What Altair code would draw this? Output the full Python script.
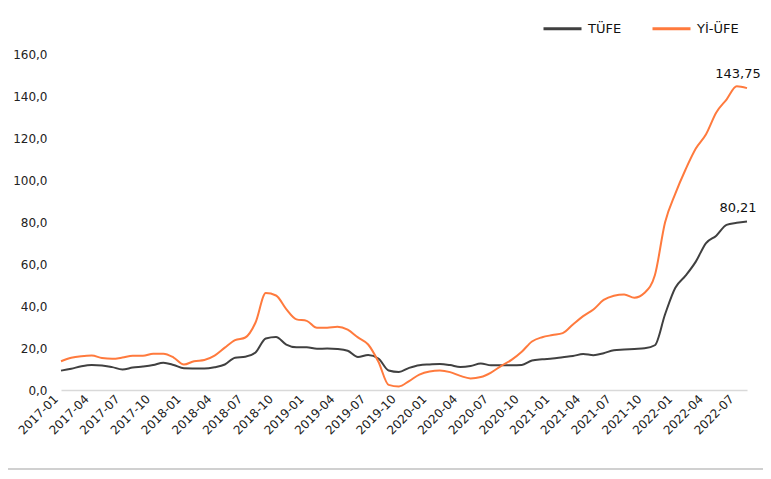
import altair as alt
import pandas as pd

months = [f"{y}-{m:02d}" for y in range(2017, 2023) for m in range(1, 13)][:68]

tufe = [9.22, 10.13, 11.29, 11.87, 11.72, 10.90, 9.79, 10.68, 11.20, 11.90, 12.98, 11.92,
        10.35, 10.26, 10.23, 10.85, 12.15, 15.39, 15.85, 17.90, 24.52, 25.24, 21.62, 20.30,
        20.35, 19.67, 19.71, 19.50, 18.71, 15.72, 16.65, 15.01, 9.26, 8.55, 10.56, 11.84,
        12.15, 12.37, 11.86, 10.94, 11.39, 12.62, 11.76, 11.77, 11.75, 11.89, 14.03, 14.60,
        14.97, 15.61, 16.19, 17.14, 16.59, 17.53, 18.95, 19.25, 19.58, 19.89, 21.31, 36.08,
        48.69, 54.44, 61.14, 69.97, 73.50, 78.62, 79.60, 80.21]

yiufe = [13.69, 15.36, 16.09, 16.37, 15.26, 14.87, 15.45, 16.34, 16.28, 17.28, 17.30, 15.47,
         12.14, 13.71, 14.28, 16.37, 20.16, 23.71, 25.00, 32.13, 46.15, 45.01, 38.54, 33.64,
         32.93, 29.59, 29.64, 30.12, 28.71, 25.04, 21.66, 13.45, 2.45, 1.70, 4.26, 7.36,
         8.84, 9.26, 8.50, 6.71, 5.53, 6.17, 8.33, 11.53, 14.33, 18.20, 23.11, 25.15,
         26.16, 27.09, 31.20, 35.17, 38.33, 42.89, 44.92, 45.52, 43.96, 46.31, 54.62, 79.89,
         93.53, 105.01, 114.97, 121.82, 132.16, 138.31, 144.61, 143.75]

series_names = ["TÜFE", "Yİ-ÜFE"]
colors = ["#404040", "#FF7A3D"]
tick_months = [m for m in months if m[5:] in ("01", "04", "07", "10")]
end_labels = ["80,21", "143,75"]

rows = []
for name, vals in zip(series_names, [tufe, yiufe]):
    for m, v in zip(months, vals):
        rows.append({"month": m, "value": v, "series": name})
df = pd.DataFrame(rows)

end_df = pd.DataFrame({
    "month": [months[-1], months[-1]],
    "value": [tufe[-1], yiufe[-1]],
    "label": end_labels,
    "series": series_names,
})

font = "DejaVu Sans"

x_enc = alt.X("month:O", sort=months,
              scale=alt.Scale(type="point", padding=0),
              axis=alt.Axis(values=tick_months, labelAngle=-45, labelFontSize=12,
                            labelColor="#222222", labelFont=font, ticks=False,
                            domainColor="#D9D9D9", domainWidth=1.5, title=None,
                            labelPadding=3, labelOffset=-9))

y_enc = alt.Y("value:Q", scale=alt.Scale(domain=[0, 160], nice=False),
              axis=alt.Axis(values=list(range(0, 161, 20)), grid=False, domain=False,
                            ticks=False, labelFontSize=12, labelColor="#222222",
                            labelFont=font, title=None, labelPadding=14,
                            labelExpr="replace(format(datum.value, '.1f'), '.', ',')"))

lines = alt.Chart(df).mark_line(strokeWidth=2, interpolate="monotone").encode(
    x=x_enc,
    y=y_enc,
    color=alt.Color("series:N", sort=series_names,
                    scale=alt.Scale(domain=series_names, range=colors),
                    legend=alt.Legend(title=None, orient="none", direction="horizontal",
                                      legendX=481, legendY=-46, symbolType="stroke",
                                      symbolSize=1444, symbolStrokeWidth=3,
                                      labelFontSize=13, labelFont=font,
                                      labelColor="#111111", columnPadding=24,
                                      labelOffset=5)),
)

texts = alt.Chart(end_df).mark_text(dy=-14, dx=-9, fontSize=13, font=font,
                                    color="#111111").encode(
    x=x_enc,
    y=y_enc,
    text="label:N",
)

bottom_rule = alt.Chart(pd.DataFrame({"k": [0]})).mark_rule(
    color="#D0D0D0", strokeWidth=2).encode(
    x=alt.value(-53), x2=alt.value(702), y=alt.value(415))

chart = alt.layer(lines, texts, bottom_rule).properties(
    width=686, height=336,
    background="white",
    autosize=alt.AutoSizeParams(type="none"),
    padding={"left": 53, "top": 46, "right": 16, "bottom": 81},
).configure_view(strokeWidth=0, stroke="transparent")

chart.save("out.html", embed_options={"renderer": "svg", "actions": False})
